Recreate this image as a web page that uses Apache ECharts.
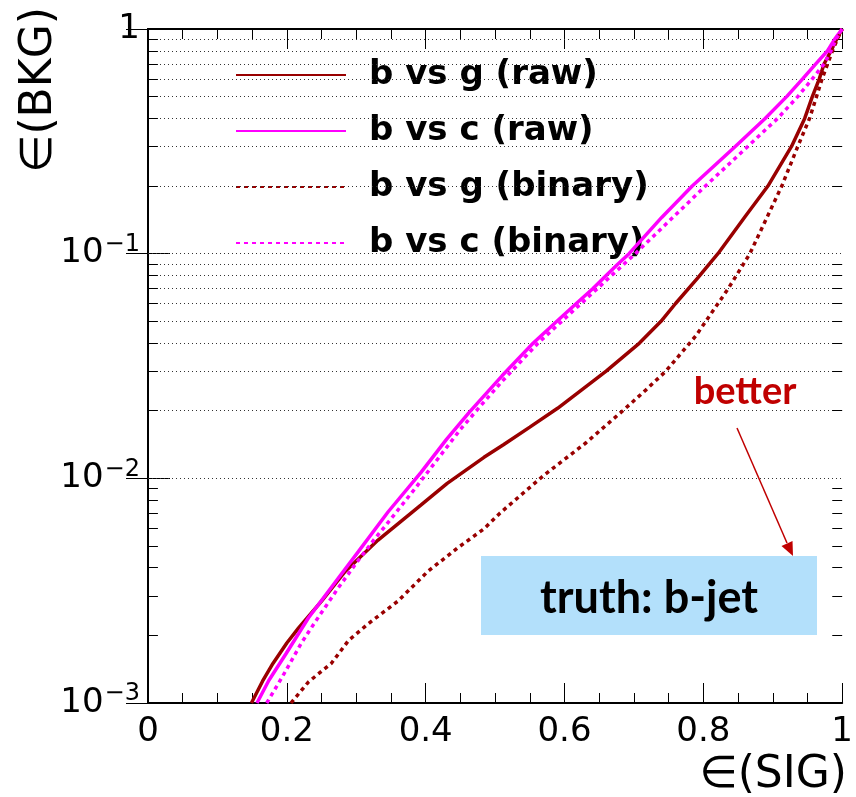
<!DOCTYPE html>
<html>
<head>
<meta charset="utf-8">
<script src="https://cdn.jsdelivr.net/npm/echarts@6/dist/echarts.min.js"></script>
<style>
html,body{margin:0;padding:0;background:#fff;}
#chart{width:856px;height:797px;}
</style>
</head>
<body>
<div id="chart"></div>
<script>
// ---- data ----
const seriesNames = ['b vs g (raw)', 'b vs c (raw)', 'b vs g (binary)', 'b vs c (binary)'];

const bgRawX = [0.149,0.165,0.18,0.2,0.217,0.25,0.284,0.331,0.393,0.431,0.484,0.512,0.55,0.59,0.66,0.708,0.739,0.76,0.792,0.821,0.86,0.893,0.927,0.946,0.957,0.967,0.974,0.984,0.992,1.0];
const bgRawY = [1.0e-3,1.25e-3,1.5e-3,1.85e-3,2.16e-3,2.84e-3,3.85e-3,5.3e-3,7.6e-3,9.5e-3,1.24e-2,1.41e-2,1.69e-2,2.05e-2,3.0e-2,4.0e-2,5.0e-2,6.0e-2,7.8e-2,0.1,0.146,0.2,0.3,0.4,0.5,0.6,0.7,0.8,0.9,1.0];

const bcRawX = [0.157,0.174,0.199,0.231,0.274,0.303,0.346,0.393,0.43,0.463,0.51,0.555,0.589,0.617,0.641,0.66,0.677,0.693,0.74,0.784,0.846,0.889,0.92,0.943,0.962,0.979,0.989,1.0];
const bcRawY = [1.0e-3,1.26e-3,1.66e-3,2.39e-3,3.59e-3,4.72e-3,7.1e-3,1.06e-2,1.49e-2,1.97e-2,2.86e-2,4.0e-2,5.0e-2,6.0e-2,7.0e-2,8.0e-2,9.0e-2,0.1,0.145,0.2,0.3,0.4,0.5,0.6,0.7,0.8,0.9,1.0];

const bgBinX = [0.206,0.231,0.264,0.289,0.317,0.36,0.403,0.446,0.484,0.507,0.57,0.631,0.684,0.717,0.746,0.789,0.836,0.867,0.913,0.936,0.953,0.963,0.971,0.979,0.986,0.993,1.0];
const bgBinY = [1.0e-3,1.24e-3,1.5e-3,1.9e-3,2.25e-3,2.84e-3,3.85e-3,4.9e-3,5.96e-3,7.0e-3,1.03e-2,1.44e-2,2.0e-2,2.47e-2,3.0e-2,4.3e-2,7.0e-2,0.1,0.2,0.3,0.4,0.5,0.6,0.7,0.8,0.9,1.0];

const bcBinX = [0.171,0.193,0.221,0.241,0.274,0.30,0.327,0.343,0.384,0.45,0.47,0.51,0.562,0.624,0.702,0.803,0.864,0.907,0.936,0.957,0.974,0.984,0.991,1.0];
const bcBinY = [1.0e-3,1.3e-3,1.85e-3,2.3e-3,3.25e-3,4.2e-3,5.4e-3,6.2e-3,8.95e-3,1.65e-2,1.95e-2,2.7e-2,4.0e-2,6.0e-2,0.1,0.2,0.3,0.4,0.5,0.6,0.7,0.8,0.9,1.0];

const xTicks = [0, 0.2, 0.4, 0.6, 0.8, 1];
const yGridValues = [2e-3,3e-3,4e-3,5e-3,6e-3,7e-3,8e-3,9e-3,1e-2,2e-2,3e-2,4e-2,5e-2,6e-2,7e-2,8e-2,9e-2,1e-1,2e-1,3e-1,4e-1,5e-1,6e-1,7e-1,8e-1,9e-1];
const yMinorTickValues = yGridValues.filter(v => Math.abs(Math.log10(v) - Math.round(Math.log10(v))) > 1e-6);

// ---- build ----
const zip = (xs, ys) => xs.map((x, i) => [x, ys[i]]);
const DARK = '#990000', MAG = '#ff00ff';
const FONT = 'DejaVu Sans';

function curve(name, xs, ys, color, dashed) {
  return {
    name, type: 'line', data: zip(xs, ys), showSymbol: false, symbol: 'none',
    xAxisIndex: 0, yAxisIndex: 0, clip: true, z: 5,
    lineStyle: { color, width: 3.5, type: dashed ? [4, 4] : 'solid' },
    itemStyle: { color }
  };
}

const gridLines = yGridValues.map(v => ({ yAxis: v }));
const tickSegs = [];
yMinorTickValues.forEach(v => {
  tickSegs.push([{ coord: [0, v] }, { coord: [0.0143, v] }]);
  tickSegs.push([{ coord: [0.9857, v] }, { coord: [1, v] }]);
});

const axisTickCfg = { show: true, inside: true, length: 20, lineStyle: { color: '#000', width: 1 } };

const chart = echarts.init(document.getElementById('chart'), null, { renderer: 'canvas' });
chart.setOption({
  animation: false,
  backgroundColor: '#fff',
  grid: { left: 148, right: 9, top: 22, bottom: 94, containLabel: false },
  legend: {
    data: seriesNames,
    orient: 'vertical', left: 230, top: 50,
    itemWidth: 110, itemHeight: 14, itemGap: 16,
    itemStyle: { opacity: 0, borderWidth: 0 },
    textStyle: { fontFamily: FONT, fontWeight: 'bold', fontSize: 34, color: '#000', lineHeight: 40, padding: [0, 0, 0, 18] },
    selectedMode: false
  },
  xAxis: [
    {
      type: 'value', min: 0, max: 1, interval: 0.2, position: 'bottom',
      axisLine: { show: true, lineStyle: { color: '#000', width: 2 } },
      axisTick: axisTickCfg,
      minorTick: { show: true, splitNumber: 4, length: 10, lineStyle: { color: '#000', width: 1 } },
      splitLine: { show: false },
      axisLabel: { fontFamily: FONT, fontSize: 34, color: '#000', margin: 12,
        formatter: v => (xTicks.some(t => Math.abs(t - v) < 1e-9) ? String(Math.round(v * 10) / 10) : '') }
    },
    {
      type: 'value', min: 0, max: 1, interval: 0.2, position: 'top',
      axisLine: { show: true, lineStyle: { color: '#000', width: 2 } },
      axisTick: axisTickCfg,
      minorTick: { show: true, splitNumber: 4, length: 10, lineStyle: { color: '#000', width: 1 } },
      splitLine: { show: false }, axisLabel: { show: false }
    }
  ],
  yAxis: [
    {
      type: 'log', logBase: 10, min: 0.001, max: 1, position: 'left',
      axisLine: { show: true, lineStyle: { color: '#000', width: 2 } },
      axisTick: { show: true, inside: true, length: 22, lineStyle: { color: '#000', width: 1 } },
      splitLine: { show: false },
      axisLabel: {
        margin: 8, showMinLabel: true, showMaxLabel: true,
        formatter: v => {
          const e = Math.round(Math.log10(v));
          if (e === 0) return '{b|1}';
          return '{b|10}{s|−' + (-e) + '}';
        },
        rich: {
          b: { fontFamily: FONT, fontSize: 34, color: '#000', lineHeight: 34, padding: [12, 0, 0, 0], verticalAlign: 'bottom' },
          s: { fontFamily: FONT, fontSize: 24, color: '#000', lineHeight: 26, padding: [0, 0, 14, 1], verticalAlign: 'bottom' }
        }
      }
    },
    {
      type: 'log', logBase: 10, min: 0.001, max: 1, position: 'right',
      axisLine: { show: true, lineStyle: { color: '#000', width: 2 } },
      axisTick: { show: true, inside: true, length: 22, lineStyle: { color: '#000', width: 1 } },
      splitLine: { show: false }, axisLabel: { show: false }
    }
  ],
  series: [
    {
      name: 'grid', type: 'line', data: [], xAxisIndex: 0, yAxisIndex: 0, silent: true, z: 1,
      markLine: { silent: true, symbol: ['none', 'none'], label: { show: false }, animation: false,
        lineStyle: { color: '#333', width: 1, type: [1, 3] }, data: gridLines }
    },
    {
      name: 'ticks', type: 'line', data: [], xAxisIndex: 0, yAxisIndex: 0, silent: true, z: 3,
      markLine: { silent: true, symbol: ['none', 'none'], label: { show: false }, animation: false,
        lineStyle: { color: '#000', width: 1, type: 'solid' }, data: tickSegs }
    },
    curve(seriesNames[0], bgRawX, bgRawY, DARK, false),
    curve(seriesNames[1], bcRawX, bcRawY, MAG, false),
    curve(seriesNames[2], bgBinX, bgBinY, DARK, true),
    curve(seriesNames[3], bcBinX, bcBinY, MAG, true)
  ],
  graphic: [
    { type: 'rect', z: 100, shape: { x: 481, y: 556, width: 336, height: 79 }, style: { fill: '#b3e0fb' } },
    { type: 'text', z: 101, x: 649, y: 598, style: { text: 'truth: b-jet', fontFamily: 'Lato', fontWeight: 'bold', fontSize: 45, fill: '#000', align: 'center', verticalAlign: 'middle' } },
    { type: 'text', z: 101, x: 745, y: 392, style: { text: 'better', fontFamily: 'Lato', fontWeight: 'bold', fontSize: 38, fill: '#c00000', align: 'center', verticalAlign: 'middle' } },
    { type: 'line', z: 101, shape: { x1: 737, y1: 428, x2: 787, y2: 543 }, style: { stroke: '#c00000', lineWidth: 1.5 } },
    { type: 'polygon', z: 101, shape: { points: [[793, 556], [781.5, 546], [792.5, 541]] }, style: { fill: '#c00000' } },
    { type: 'text', z: 101, x: 40, y: 90, rotation: Math.PI / 2, style: { text: '∈(BKG)', fontFamily: FONT, fontSize: 44, fill: '#000', align: 'center', verticalAlign: 'middle' } },
    { type: 'text', z: 101, x: 847, y: 776, style: { text: '∈(SIG)', fontFamily: FONT, fontSize: 44, fill: '#000', align: 'right', verticalAlign: 'middle' } }
  ]
});
</script>
</body>
</html>
